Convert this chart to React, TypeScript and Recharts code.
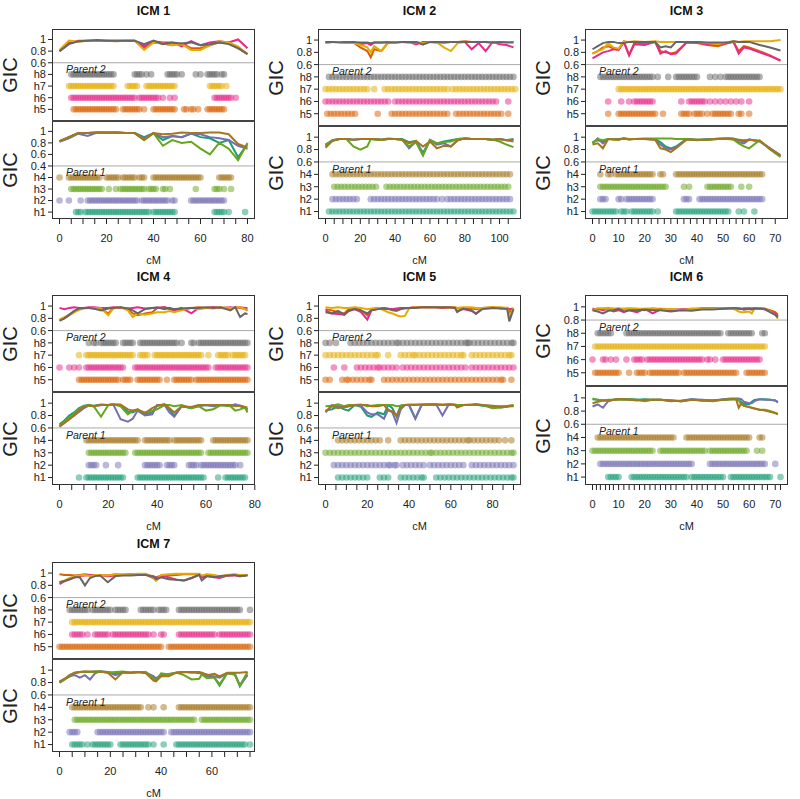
import React from 'react';
import { ComposedChart, Line, Scatter, XAxis, YAxis, ReferenceLine } from 'recharts';

const COL: Record<string, string> = {
  h1: '#1b9e77', h2: '#7570b3', h3: '#66a61e', h4: '#a6761d',
  h5: '#d95f02', h6: '#e7298a', h7: '#e6ab02', h8: '#666666',
};
const FONT = "'Liberation Sans', Arial, sans-serif";

// ---------- ICM 1 ----------
const icm1Xs = [0, 4, 8, 12, 16, 20, 24, 28, 32, 36, 40, 44, 48, 52, 56, 60, 64, 68, 72, 76, 80];
const icm1P2 = [
  [0.8, 0.95, 0.97, 0.98, 0.98, 0.98, 0.97, 0.98, 0.98, 0.85, 0.95, 0.93, 0.9, 0.93, 0.85, 0.85, 0.9, 0.95, 0.95, 0.85, 0.75],
  [0.8, 0.93, 0.98, 0.98, 0.98, 0.98, 0.98, 0.98, 0.98, 0.88, 0.97, 0.95, 0.95, 0.88, 0.97, 0.9, 0.95, 0.97, 0.95, 1.0, 0.85],
  [0.82, 0.98, 0.96, 0.98, 0.98, 0.98, 0.98, 0.98, 0.98, 0.82, 0.95, 0.93, 0.9, 0.92, 0.82, 0.82, 0.9, 0.97, 0.95, 0.88, 0.75],
  [0.8, 0.92, 0.97, 0.98, 0.99, 0.98, 0.98, 0.98, 0.98, 0.92, 0.98, 0.92, 0.95, 0.93, 0.95, 0.9, 0.92, 0.95, 0.92, 0.85, 0.75],
];
const icm1P1 = [
  [0.83, 0.9, 0.97, 0.97, 0.98, 0.98, 0.98, 0.97, 0.97, 0.9, 0.97, 0.85, 0.92, 0.9, 0.96, 0.9, 0.88, 0.8, 0.85, 0.55, 0.78],
  [0.82, 0.88, 0.96, 0.92, 0.98, 0.97, 0.98, 0.97, 0.97, 0.88, 0.97, 0.9, 0.92, 0.9, 0.96, 0.95, 0.9, 0.88, 0.85, 0.75, 0.7],
  [0.83, 0.9, 0.97, 0.97, 0.98, 0.98, 0.98, 0.97, 0.97, 0.85, 0.97, 0.75, 0.85, 0.8, 0.82, 0.7, 0.6, 0.8, 0.7, 0.5, 0.8],
  [0.83, 0.9, 0.97, 0.97, 0.98, 0.98, 0.98, 0.97, 0.97, 0.85, 0.97, 0.95, 0.96, 0.98, 0.97, 0.97, 0.98, 0.98, 0.95, 0.78, 0.72],
];
const icm1D2 = [
  [6, 7, 8, 9, 10, 11, 12, 13, 14, 15, 16, 17, 18, 19, 20, 21, 22, 23, 24, 27, 28, 29, 30, 31, 32, 33, 34, 36, 40, 41, 42, 43, 44, 45, 46, 47, 48, 49, 53, 54, 56, 57, 59, 63, 64, 65, 66, 67, 68, 69, 70],
  [5, 6, 7, 8, 9, 10, 11, 12, 13, 14, 15, 16, 17, 18, 19, 20, 21, 22, 23, 24, 25, 26, 27, 28, 29, 30, 31, 32, 34, 35, 36, 37, 38, 39, 40, 41, 42, 44, 47, 49, 66, 67, 68, 69, 70, 71, 72, 73, 75],
  [4, 5, 6, 7, 8, 9, 10, 11, 12, 13, 14, 15, 16, 17, 18, 19, 20, 21, 22, 23, 29, 30, 31, 32, 33, 37, 38, 39, 40, 41, 42, 43, 44, 45, 46, 47, 48, 49, 64, 65, 66, 67, 68, 69, 71],
  [5, 6, 7, 8, 9, 10, 11, 12, 13, 14, 15, 16, 17, 18, 19, 20, 21, 22, 23, 32, 33, 34, 35, 37, 39, 46, 47, 48, 49, 50, 52, 58, 60, 63, 64, 65, 66, 67, 69, 70],
];
const icm1D1 = [
  [7, 8, 9, 11, 12, 13, 14, 15, 16, 17, 18, 19, 20, 21, 22, 23, 24, 25, 26, 27, 28, 29, 30, 31, 32, 33, 34, 35, 36, 37, 38, 40, 41, 42, 43, 44, 45, 46, 47, 48, 49, 66, 67, 68, 69, 70, 72, 79],
  [0, 4, 9, 12, 13, 14, 15, 16, 17, 18, 19, 20, 21, 22, 23, 24, 25, 26, 27, 28, 29, 30, 31, 32, 33, 35, 36, 37, 38, 39, 40, 41, 42, 43, 44, 45, 46, 48, 49, 56, 57, 58, 59, 60, 61, 62, 63, 64, 65, 66, 67, 68, 69, 70],
  [5, 6, 7, 8, 9, 10, 11, 12, 13, 14, 15, 16, 17, 18, 21, 24, 26, 27, 28, 29, 30, 31, 32, 33, 34, 35, 36, 38, 39, 40, 41, 44, 45, 47, 58, 66, 67, 68, 70, 73],
  [0, 4, 5, 6, 7, 8, 9, 10, 11, 12, 13, 14, 15, 16, 17, 20, 21, 22, 23, 24, 25, 27, 28, 29, 30, 31, 32, 34, 35, 36, 40, 41, 42, 43, 44, 45, 46, 47, 48, 49, 50, 51, 52, 53, 54, 55, 56, 57, 58, 59, 60, 68, 69, 70, 71, 72, 73],
];
const icm1Ticks = [0, 5, 10, 15, 20, 25, 30, 35, 40, 45, 50, 55, 60, 65, 70, 75, 80];

// ---------- ICM 2 ----------
const icm2Xs = [0, 4, 8, 12, 16, 20, 24, 26, 28, 32, 36, 40, 44, 48, 52, 56, 60, 64, 68, 72, 76, 80, 84, 88, 92, 96, 100, 104, 108];
const icm2P2 = [
  [0.96, 0.97, 0.97, 0.96, 0.96, 0.88, 0.82, 0.72, 0.85, 0.82, 0.96, 0.97, 0.97, 0.96, 0.97, 0.93, 0.97, 0.97, 0.96, 0.97, 0.97, 0.98, 0.97, 0.97, 0.97, 0.96, 0.97, 0.97, 0.97],
  [0.96, 0.97, 0.97, 0.96, 0.96, 0.93, 0.95, 0.92, 0.96, 0.96, 0.97, 0.96, 0.97, 0.97, 0.93, 0.97, 0.97, 0.96, 0.97, 0.97, 0.97, 0.97, 0.85, 0.95, 0.82, 0.97, 0.93, 0.92, 0.88],
  [0.96, 0.97, 0.97, 0.96, 0.96, 0.92, 0.88, 0.8, 0.9, 0.82, 0.96, 0.97, 0.97, 0.96, 0.97, 0.95, 0.97, 0.96, 0.88, 0.82, 0.95, 0.97, 0.97, 0.97, 0.97, 0.96, 0.97, 0.97, 0.97],
  [0.97, 0.97, 0.96, 0.97, 0.97, 0.96, 0.96, 0.95, 0.96, 0.96, 0.96, 0.96, 0.97, 0.97, 0.97, 0.93, 0.97, 0.97, 0.96, 0.97, 0.97, 0.97, 0.97, 0.97, 0.97, 0.96, 0.97, 0.96, 0.96],
];
const icm2P1 = [
  [0.88, 0.95, 0.97, 0.97, 0.96, 0.97, 0.97, 0.97, 0.97, 0.96, 0.97, 0.97, 0.97, 0.92, 0.94, 0.75, 0.95, 0.9, 0.93, 0.95, 0.97, 0.98, 0.97, 0.97, 0.97, 0.96, 0.97, 0.95, 0.97],
  [0.85, 0.95, 0.97, 0.97, 0.96, 0.97, 0.97, 0.97, 0.97, 0.96, 0.98, 0.97, 0.96, 0.82, 0.93, 0.72, 0.95, 0.88, 0.9, 0.85, 0.95, 0.98, 0.97, 0.97, 0.97, 0.96, 0.97, 0.95, 0.96],
  [0.87, 0.94, 0.97, 0.97, 0.85, 0.8, 0.85, 0.97, 0.96, 0.96, 0.97, 0.97, 0.96, 0.85, 0.92, 0.7, 0.96, 0.9, 0.92, 0.93, 0.97, 0.98, 0.97, 0.97, 0.97, 0.96, 0.93, 0.88, 0.84],
  [0.83, 0.94, 0.97, 0.97, 0.96, 0.97, 0.97, 0.97, 0.97, 0.96, 0.97, 0.97, 0.96, 0.9, 0.94, 0.85, 0.93, 0.82, 0.86, 0.85, 0.95, 0.98, 0.97, 0.97, 0.97, 0.96, 0.97, 0.95, 0.93],
];
const icm2D2 = [
  [1, 3, 5, 7, 9, 11, 13, 15, 17, 30, 38, 40, 42, 44, 46, 48, 50, 52, 54, 56, 58, 60, 62, 64, 66, 68, 70, 75, 77, 79, 81, 83, 85, 87, 89, 91, 93, 95, 97, 99, 101, 105],
  [0, 2, 4, 6, 8, 10, 12, 14, 16, 18, 20, 22, 24, 26, 28, 30, 32, 34, 36, 40, 42, 44, 46, 48, 50, 52, 54, 56, 58, 60, 62, 64, 66, 68, 70, 72, 74, 76, 78, 80, 82, 84, 86, 88, 90, 92, 94, 96, 98, 105],
  [0, 2, 4, 6, 8, 10, 12, 14, 16, 18, 20, 22, 24, 28, 34, 36, 38, 40, 42, 44, 46, 48, 50, 52, 54, 56, 58, 60, 62, 64, 66, 68, 70, 73, 75, 77, 79, 81, 83, 85, 87, 89, 91, 93, 95, 97, 99, 101, 103, 105, 107, 109],
  [2, 4, 6, 8, 10, 12, 14, 16, 18, 20, 22, 24, 26, 28, 30, 32, 34, 36, 38, 40, 42, 44, 46, 48, 50, 52, 54, 56, 58, 60, 62, 64, 66, 68, 70, 72, 74, 76, 78, 80, 82, 84, 86, 88, 90, 92, 94, 96, 98, 100, 102, 104, 106, 108],
];
const icm2D1 = [
  [2, 4, 6, 8, 10, 12, 14, 16, 18, 20, 22, 24, 26, 28, 30, 32, 34, 36, 38, 40, 42, 44, 46, 48, 50, 52, 54, 56, 58, 60, 62, 64, 66, 68, 70, 72, 74, 76, 78, 80, 82, 84, 86, 88, 90, 92, 94, 96, 98, 100, 102, 104, 106, 108],
  [4, 6, 8, 10, 12, 14, 16, 18, 26, 28, 30, 32, 34, 36, 38, 40, 42, 44, 46, 48, 50, 52, 54, 56, 58, 60, 62, 64, 67, 70, 72, 74, 76, 78, 80, 82, 84, 86, 88, 90, 92, 94, 96, 98, 100, 102, 104, 106],
  [5, 7, 9, 11, 13, 15, 17, 19, 21, 23, 25, 27, 29, 35, 37, 39, 41, 43, 45, 47, 49, 51, 53, 55, 57, 59, 61, 63, 65, 67, 69, 71, 73, 75, 77, 79, 81, 83, 85, 87, 89, 91, 93, 95, 97, 99, 101, 103, 105],
  [4, 6, 8, 10, 12, 14, 16, 18, 20, 22, 24, 26, 28, 30, 32, 34, 36, 38, 40, 42, 44, 46, 48, 50, 52, 54, 56, 58, 60, 62, 64, 66, 68, 70, 72, 74, 76, 78, 80, 82, 84, 86, 88, 90, 92, 94, 96, 98, 100, 102, 104, 106],
];
const icm2Ticks = [0, 5, 10, 15, 20, 25, 30, 35, 40, 45, 50, 55, 60, 65, 70, 75, 80, 85, 90, 95, 100, 105];

// ---------- ICM 3 ----------
const icm3Xs = [0, 2, 4, 6, 8, 10, 12, 14, 16, 20, 24, 26, 28, 30, 32, 36, 40, 44, 48, 52, 54, 56, 58, 60, 64, 68, 72];
const icm3P2 = [
  [0.78, 0.82, 0.88, 0.9, 0.86, 0.85, 0.97, 0.76, 0.95, 0.95, 0.97, 0.82, 0.8, 0.78, 0.8, 0.96, 0.95, 0.92, 0.9, 0.95, 0.97, 0.82, 0.9, 0.88, 0.82, 0.75, 0.66],
  [0.7, 0.75, 0.8, 0.82, 0.85, 0.84, 0.97, 0.75, 0.93, 0.92, 0.97, 0.78, 0.82, 0.77, 0.78, 0.96, 0.96, 0.93, 0.92, 0.96, 0.97, 0.78, 0.88, 0.86, 0.8, 0.74, 0.67],
  [0.78, 0.82, 0.85, 0.95, 0.88, 0.86, 0.98, 0.97, 0.98, 0.97, 0.98, 0.97, 0.97, 0.97, 0.97, 0.97, 0.97, 0.95, 0.93, 0.97, 0.98, 0.97, 0.98, 0.98, 0.98, 0.98, 1.0],
  [0.85, 0.9, 0.95, 0.97, 0.97, 0.95, 0.95, 0.97, 0.97, 0.97, 0.97, 0.88, 0.9, 0.88, 0.97, 0.97, 0.97, 0.96, 0.96, 0.96, 0.98, 0.97, 0.97, 0.97, 0.92, 0.88, 0.83],
];
const icm3P1 = [
  [0.92, 0.95, 0.93, 0.97, 0.97, 0.97, 0.97, 0.97, 0.97, 0.97, 0.97, 0.92, 0.85, 0.82, 0.85, 0.97, 0.95, 0.97, 0.97, 0.98, 0.98, 0.95, 0.93, 0.96, 0.93, 0.82, 0.7],
  [0.9, 0.98, 0.9, 0.97, 0.97, 0.97, 0.98, 0.97, 0.97, 0.97, 0.96, 0.88, 0.82, 0.8, 0.83, 0.97, 0.96, 0.96, 0.98, 0.98, 0.97, 0.92, 0.9, 0.96, 0.94, 0.82, 0.71],
  [0.9, 0.97, 0.95, 0.97, 0.97, 0.96, 0.98, 0.97, 0.97, 0.98, 0.98, 0.98, 0.98, 0.98, 0.97, 0.97, 0.96, 0.96, 0.97, 0.97, 0.96, 0.9, 0.85, 0.82, 0.95, 0.8, 0.68],
  [0.88, 0.9, 0.82, 0.97, 0.96, 0.96, 0.98, 0.96, 0.97, 0.97, 0.96, 0.82, 0.8, 0.76, 0.82, 0.96, 0.96, 0.96, 0.97, 0.98, 0.97, 0.96, 0.95, 0.96, 0.94, 0.81, 0.7],
];
const icm3D2 = [
  [6, 10, 11, 12, 13, 14, 15, 16, 17, 18, 19, 20, 21, 22, 23, 24, 27, 34, 35, 36, 37, 39, 40, 41, 42, 44, 46, 47, 48, 49, 50, 51, 52, 53, 56, 57, 60],
  [6, 11, 14, 16, 17, 18, 19, 20, 21, 22, 23, 34, 37, 38, 39, 40, 41, 42, 43, 45, 47, 49, 51, 53, 55, 57, 60],
  [10, 11, 12, 13, 14, 15, 16, 17, 18, 19, 20, 21, 22, 23, 24, 25, 26, 27, 28, 29, 30, 31, 32, 33, 34, 35, 36, 37, 38, 39, 40, 41, 42, 43, 44, 45, 46, 47, 48, 49, 50, 51, 52, 53, 54, 55, 56, 57, 58, 59, 60, 61, 62, 63, 64, 65, 66, 67, 68, 69, 70, 71, 72],
  [3, 4, 5, 6, 7, 8, 9, 10, 11, 12, 13, 14, 15, 16, 17, 18, 19, 20, 21, 22, 23, 25, 29, 32, 33, 34, 35, 36, 37, 38, 39, 40, 45, 47, 49, 51, 52, 53, 54, 55, 56, 57, 58, 59, 60, 61, 62, 63, 64],
];
const icm3D1 = [
  [0, 1, 2, 3, 4, 5, 6, 7, 8, 9, 11, 12, 13, 15, 16, 17, 18, 19, 20, 21, 22, 23, 25, 32, 33, 34, 35, 36, 37, 38, 39, 40, 41, 42, 43, 44, 45, 46, 47, 48, 49, 50, 51, 52, 56, 58, 62],
  [3, 4, 5, 10, 11, 13, 14, 15, 16, 17, 18, 19, 20, 21, 22, 23, 35, 36, 37, 41, 42, 43, 44, 45, 46, 47, 48, 49, 50, 51, 52, 53, 54, 55, 56, 57, 58, 59, 60, 61, 62, 63, 64, 65],
  [3, 4, 5, 6, 7, 8, 9, 10, 11, 12, 13, 14, 15, 16, 17, 18, 19, 20, 21, 22, 23, 24, 25, 26, 27, 28, 35, 37, 44, 45, 46, 47, 48, 49, 50, 51, 52, 53, 57, 60],
  [3, 6, 7, 9, 10, 11, 12, 13, 14, 15, 16, 17, 18, 19, 20, 21, 22, 23, 26, 27, 32, 33, 34, 35, 36, 37, 38, 39, 40, 41, 42, 43, 44, 45, 46, 47, 48, 49, 50, 51, 52, 53, 54, 55, 56, 57, 58, 59, 60, 61, 62, 63, 64, 65],
];
const icm3Ticks = [0, 2.5, 5, 7.5, 10, 12.5, 15, 17.5, 20, 22.5, 25, 27.5, 30, 32.5, 35, 37.5, 40, 42.5, 45, 47.5, 50, 52.5, 55, 57.5, 60, 62.5, 65, 70];

// ---------- ICM 4 ----------
const icm4Xs = [0, 2, 4, 6, 8, 10, 12, 14, 17, 20, 22, 25, 28, 30, 32, 35, 38, 40, 43, 45, 47, 50, 54, 57, 60, 63, 66, 70, 72, 74, 76, 77];
const icm4P2 = [
  [0.77, 0.8, 0.85, 0.9, 0.95, 0.97, 0.97, 0.96, 0.95, 0.88, 0.97, 0.98, 0.95, 0.88, 0.85, 0.88, 0.9, 0.97, 0.98, 0.95, 0.93, 0.95, 0.97, 0.98, 0.97, 0.98, 0.97, 0.96, 0.98, 0.97, 0.95, 0.93],
  [0.97, 0.95, 0.97, 0.98, 0.97, 0.97, 0.98, 0.98, 0.97, 0.97, 0.98, 0.97, 0.96, 0.97, 0.98, 0.96, 0.97, 0.97, 0.98, 0.96, 0.93, 0.97, 0.88, 0.97, 0.97, 0.98, 0.97, 0.98, 0.97, 0.98, 0.97, 0.97],
  [0.78, 0.82, 0.86, 0.9, 0.94, 0.96, 0.97, 0.97, 0.96, 0.85, 0.96, 0.98, 0.93, 0.82, 0.88, 0.86, 0.88, 0.9, 0.9, 0.92, 0.9, 0.93, 0.97, 0.95, 0.97, 0.96, 0.98, 0.97, 0.97, 0.98, 0.95, 0.92],
  [0.76, 0.8, 0.86, 0.92, 0.96, 0.97, 0.97, 0.96, 0.93, 0.96, 0.97, 0.98, 0.96, 0.93, 0.88, 0.95, 0.97, 0.98, 0.95, 0.97, 0.95, 0.96, 0.97, 0.97, 0.98, 0.97, 0.98, 0.93, 0.98, 0.82, 0.88, 0.87],
];
const icm4P1 = [
  [0.66, 0.72, 0.8, 0.85, 0.92, 0.96, 0.97, 0.96, 0.98, 0.97, 0.98, 0.97, 0.86, 0.85, 0.9, 0.82, 0.85, 0.96, 0.98, 0.9, 0.8, 0.95, 0.92, 0.96, 0.97, 0.96, 0.97, 0.96, 0.97, 0.95, 0.92, 0.88],
  [0.62, 0.68, 0.74, 0.8, 0.86, 0.92, 0.96, 0.95, 0.97, 0.97, 0.98, 0.74, 0.7, 0.75, 0.88, 0.8, 0.82, 0.97, 0.97, 0.85, 0.78, 0.95, 0.93, 0.95, 0.97, 0.95, 0.97, 0.96, 0.98, 0.96, 0.93, 0.9],
  [0.64, 0.7, 0.77, 0.83, 0.9, 0.95, 0.96, 0.95, 0.78, 0.97, 0.98, 0.95, 0.82, 0.88, 0.88, 0.85, 0.88, 0.9, 0.97, 0.97, 0.95, 0.97, 0.92, 0.95, 0.88, 0.9, 0.97, 0.95, 0.88, 0.9, 0.93, 0.85],
  [0.63, 0.68, 0.74, 0.8, 0.88, 0.94, 0.97, 0.95, 0.97, 0.97, 0.98, 0.98, 0.9, 0.88, 0.9, 0.84, 0.92, 0.96, 0.98, 0.92, 0.85, 0.95, 0.94, 0.97, 0.97, 0.97, 0.97, 0.97, 0.95, 0.96, 0.94, 0.93],
];
const icm4D2 = [
  [8, 9, 10, 11, 12, 13, 14, 15, 16, 17, 18, 19, 20, 21, 22, 23, 24, 26, 27, 28, 29, 32, 33, 34, 35, 36, 37, 38, 39, 40, 41, 44, 47, 48, 49, 50, 51, 52, 53, 54, 56, 57, 58, 59, 60, 61, 62, 63, 64, 65, 66, 67, 68, 69, 70, 71, 72, 73, 74, 75, 76, 77],
  [0, 4, 6, 8, 11, 12, 13, 14, 15, 16, 17, 18, 19, 20, 21, 22, 23, 24, 25, 26, 31, 32, 33, 34, 35, 36, 37, 38, 39, 40, 41, 42, 43, 44, 45, 46, 47, 48, 49, 50, 51, 52, 53, 54, 55, 56, 57, 58, 59, 60, 61, 64, 65, 66, 67, 68, 69, 70, 71, 72, 73, 74, 75, 76, 77],
  [8, 11, 12, 13, 14, 15, 16, 17, 18, 19, 20, 21, 22, 23, 24, 25, 26, 27, 28, 29, 30, 33, 34, 35, 36, 39, 40, 41, 42, 43, 44, 45, 46, 47, 48, 49, 50, 51, 52, 53, 54, 55, 56, 57, 58, 61, 65, 66, 67, 68, 69, 71, 72, 73, 74, 75, 76],
  [12, 14, 15, 17, 18, 19, 20, 21, 22, 23, 26, 27, 28, 29, 30, 33, 34, 35, 36, 37, 38, 39, 40, 41, 42, 43, 44, 45, 46, 47, 48, 50, 54, 55, 57, 58, 59, 60, 61, 62, 63, 64, 65, 66, 67, 68, 69, 70, 71, 72, 73, 74, 75, 76, 77],
];
const icm4D1 = [
  [8, 11, 12, 13, 14, 15, 16, 17, 18, 19, 20, 21, 22, 23, 24, 25, 26, 32, 33, 34, 35, 36, 37, 38, 39, 40, 41, 42, 43, 44, 45, 46, 47, 48, 49, 50, 51, 52, 53, 54, 55, 56, 57, 58, 59, 65, 68, 69, 70, 71, 72, 73, 74, 75, 76],
  [12, 13, 14, 15, 19, 24, 35, 36, 37, 38, 39, 40, 41, 44, 45, 46, 47, 53, 54, 55, 56, 58, 59, 60, 61, 62, 63, 64, 65, 66, 67, 68, 69, 70, 71, 72, 74],
  [12, 13, 14, 15, 16, 17, 18, 19, 20, 21, 22, 23, 24, 25, 26, 27, 31, 32, 33, 34, 35, 36, 37, 38, 39, 40, 41, 42, 43, 44, 45, 46, 47, 48, 49, 50, 51, 52, 53, 54, 55, 56, 57, 58, 61, 62, 63, 64, 65, 66, 67, 68, 69, 70, 71, 72, 73, 74, 75, 76, 77],
  [11, 12, 13, 14, 15, 16, 17, 18, 19, 20, 21, 22, 23, 24, 25, 26, 27, 28, 29, 30, 31, 32, 35, 36, 37, 38, 39, 40, 41, 42, 43, 44, 45, 47, 48, 49, 50, 51, 52, 53, 54, 55, 56, 57, 58, 63, 64, 65, 66, 67, 68, 69, 70, 71, 72, 73, 74, 75, 76, 77],
];
const icm4Ticks = [0, 5, 10, 15, 20, 25, 30, 35, 40, 45, 50, 55, 60, 65, 70, 75, 80];

// ---------- ICM 5 ----------
const icm5Xs = [0, 3, 6, 9, 11, 14, 17, 20, 22, 25, 28, 30, 32, 34, 36, 38, 40, 43, 46, 50, 53, 56, 59, 62, 63, 66, 70, 72, 75, 80, 84, 87, 88, 90];
const icm5P2 = [
  [0.95, 0.93, 0.9, 0.88, 0.95, 0.97, 0.93, 0.85, 0.95, 0.96, 0.97, 0.96, 0.93, 0.92, 0.95, 0.96, 0.97, 0.98, 0.98, 0.98, 0.98, 0.97, 0.98, 0.98, 0.97, 0.97, 0.96, 0.95, 0.97, 0.98, 0.96, 0.97, 0.9, 0.95],
  [0.93, 0.88, 0.87, 0.86, 0.92, 0.95, 0.9, 0.78, 0.93, 0.95, 0.96, 0.95, 0.95, 0.96, 0.97, 0.97, 0.97, 0.98, 0.98, 0.98, 0.98, 0.97, 0.98, 0.97, 0.92, 0.95, 0.92, 0.88, 0.96, 0.97, 0.97, 0.97, 0.95, 0.96],
  [0.98, 0.97, 0.98, 0.97, 0.97, 0.98, 0.97, 0.95, 0.96, 0.97, 0.93, 0.9, 0.88, 0.85, 0.83, 0.84, 0.96, 0.98, 0.98, 0.98, 0.98, 0.98, 0.98, 0.98, 0.97, 0.98, 0.98, 0.97, 0.97, 0.98, 0.98, 0.97, 0.82, 0.97],
  [0.9, 0.88, 0.92, 0.86, 0.92, 0.95, 0.93, 0.88, 0.93, 0.95, 0.96, 0.95, 0.94, 0.93, 0.95, 0.97, 0.97, 0.97, 0.98, 0.98, 0.98, 0.98, 0.98, 0.97, 0.9, 0.96, 0.93, 0.87, 0.95, 0.97, 0.96, 0.95, 0.75, 0.95],
];
const icm5P1 = [
  [0.88, 0.9, 0.95, 0.9, 0.88, 0.97, 0.94, 0.8, 0.78, 0.85, 0.82, 0.97, 0.92, 0.78, 0.96, 0.97, 0.97, 0.75, 0.97, 0.98, 0.98, 0.97, 0.98, 0.97, 0.95, 0.97, 0.97, 0.98, 0.96, 0.95, 0.93, 0.94, 0.95, 0.95],
  [0.85, 0.97, 0.95, 0.93, 0.95, 0.97, 0.96, 0.85, 0.82, 0.82, 0.75, 0.9, 0.85, 0.68, 0.9, 0.97, 0.97, 0.75, 0.97, 0.98, 0.98, 0.8, 0.98, 0.97, 0.96, 0.97, 0.97, 0.98, 0.97, 0.95, 0.95, 0.95, 0.95, 0.96],
  [0.95, 0.96, 0.98, 0.95, 0.97, 0.97, 0.98, 0.95, 0.96, 0.97, 0.97, 0.97, 0.97, 0.95, 0.96, 0.97, 0.98, 0.98, 0.98, 0.98, 0.98, 0.98, 0.98, 0.98, 0.97, 0.97, 0.97, 0.98, 0.97, 0.92, 0.93, 0.95, 0.96, 0.97],
  [0.86, 0.95, 0.92, 0.94, 0.95, 0.97, 0.97, 0.97, 0.95, 0.95, 0.97, 0.88, 0.87, 0.8, 0.92, 0.97, 0.97, 0.97, 0.98, 0.98, 0.98, 0.97, 0.98, 0.97, 0.93, 0.97, 0.98, 0.98, 0.97, 0.96, 0.94, 0.95, 0.96, 0.96],
];
const icm5D2 = [
  [0, 2, 8, 10, 11, 13, 15, 17, 19, 21, 22, 28, 30, 32, 34, 36, 38, 40, 42, 44, 46, 48, 50, 52, 54, 56, 58, 60, 62, 64, 66, 68, 70, 72, 74, 76, 78, 80, 82, 84, 85, 89],
  [4, 9, 15, 17, 19, 21, 23, 25, 26, 28, 30, 32, 34, 37, 39, 41, 43, 45, 47, 49, 51, 53, 55, 57, 59, 61, 63, 65, 67, 70, 72, 74, 76, 78, 80, 82, 84, 86, 88, 90],
  [0, 2, 4, 6, 8, 10, 12, 14, 16, 18, 20, 22, 24, 25, 30, 36, 38, 40, 42, 43, 45, 47, 49, 51, 53, 55, 57, 59, 61, 63, 65, 66, 70, 72, 74, 76, 78, 80, 82, 84, 86, 88, 89],
  [0, 2, 5, 12, 14, 16, 18, 20, 22, 24, 26, 28, 30, 32, 34, 35, 37, 39, 41, 43, 45, 47, 49, 51, 53, 55, 57, 59, 61, 63, 65, 67, 68, 69, 71, 73, 75, 77, 79, 81, 83, 85, 87, 89, 90],
];
const icm5D1 = [
  [6, 8, 10, 12, 14, 16, 18, 20, 26, 28, 30, 36, 38, 40, 42, 44, 46, 47, 53, 55, 57, 59, 61, 63, 65, 67, 69, 71, 73, 75, 77, 79, 81, 83, 85, 87, 89, 90],
  [4, 6, 8, 10, 12, 14, 16, 18, 20, 22, 24, 26, 28, 30, 31, 33, 34, 37, 39, 41, 43, 45, 47, 50, 52, 54, 56, 58, 60, 62, 64, 66, 70, 72, 74, 76, 78, 80, 82, 84, 86, 88, 90],
  [0, 2, 4, 6, 8, 10, 12, 14, 16, 18, 20, 22, 24, 26, 28, 30, 32, 34, 36, 38, 40, 42, 44, 46, 48, 50, 51, 53, 55, 57, 59, 61, 63, 65, 67, 69, 71, 73, 75, 77, 79, 81, 83, 85, 87, 89, 90],
  [6, 8, 10, 12, 14, 16, 18, 20, 22, 24, 26, 30, 36, 38, 40, 42, 44, 46, 48, 50, 52, 54, 56, 58, 60, 62, 64, 66, 68, 69, 71, 73, 75, 77, 79, 81, 83, 86, 89],
];
const icm5Ticks = [0, 5, 10, 15, 20, 25, 30, 35, 40, 45, 50, 55, 60, 65, 70, 75, 80, 85, 90];

// ---------- ICM 6 ----------
const icm6Xs = [0, 2, 4, 6, 8, 10, 12, 14, 17, 20, 23, 26, 30, 34, 38, 42, 46, 50, 53, 55, 56, 57, 58, 60, 61, 62, 64, 66, 68, 70, 71];
const icm6P2 = [
  [0.97, 0.96, 0.97, 0.98, 0.97, 0.96, 0.97, 0.97, 0.97, 0.95, 0.97, 0.97, 0.96, 0.96, 0.96, 0.98, 0.98, 0.97, 0.98, 0.97, 0.97, 0.97, 0.96, 0.97, 0.96, 0.98, 0.98, 0.97, 0.95, 0.92, 0.88],
  [0.96, 0.97, 0.95, 0.97, 0.93, 0.95, 0.92, 0.95, 0.92, 0.97, 0.9, 0.96, 0.95, 0.96, 0.97, 0.97, 0.97, 0.98, 0.98, 0.98, 0.97, 0.97, 0.98, 0.98, 0.98, 0.98, 0.98, 0.96, 0.93, 0.9, 0.86],
  [0.95, 0.98, 0.98, 0.97, 0.97, 0.98, 0.97, 0.98, 0.97, 0.97, 0.98, 0.96, 0.97, 0.95, 0.97, 0.97, 0.97, 0.98, 0.98, 0.95, 0.93, 0.92, 0.92, 0.93, 0.9, 0.97, 0.98, 0.97, 0.93, 0.88, 0.82],
  [0.95, 0.93, 0.9, 0.94, 0.95, 0.97, 0.93, 0.95, 0.95, 0.96, 0.95, 0.95, 0.93, 0.95, 0.94, 0.96, 0.96, 0.97, 0.98, 0.98, 0.98, 0.97, 0.96, 0.97, 0.96, 0.97, 0.97, 0.97, 0.92, 0.88, 0.84],
];
const icm6P1 = [
  [0.98, 0.97, 0.96, 0.96, 0.97, 0.98, 0.98, 0.98, 0.97, 0.98, 0.97, 0.97, 0.96, 0.95, 0.98, 0.96, 0.96, 0.97, 0.98, 0.98, 0.97, 0.93, 0.91, 0.9, 0.94, 0.97, 0.98, 0.98, 0.97, 0.96, 0.94],
  [0.87, 0.9, 0.85, 0.95, 0.97, 0.98, 0.98, 0.98, 0.97, 0.96, 0.97, 0.97, 0.95, 0.96, 0.98, 0.97, 0.96, 0.98, 0.99, 0.99, 0.99, 0.98, 0.94, 0.92, 0.92, 0.95, 0.98, 0.97, 0.97, 0.96, 0.93],
  [0.99, 0.97, 0.96, 0.97, 0.97, 0.98, 0.97, 0.98, 0.97, 0.95, 0.97, 0.97, 0.96, 0.95, 0.97, 0.96, 0.95, 0.97, 0.98, 0.98, 0.96, 0.9, 0.88, 0.86, 0.85, 0.84, 0.82, 0.82, 0.8, 0.77, 0.76],
  [0.92, 0.94, 0.96, 0.96, 0.97, 0.98, 0.98, 0.97, 0.96, 0.97, 0.97, 0.97, 0.96, 0.95, 0.97, 0.96, 0.96, 0.97, 0.98, 0.98, 0.85, 0.92, 0.88, 0.86, 0.85, 0.84, 0.82, 0.81, 0.79, 0.77, 0.75],
];
const icm6D2 = [
  [1, 2, 3, 4, 5, 6, 7, 8, 9, 10, 14, 17, 18, 19, 20, 22, 23, 24, 25, 26, 27, 28, 29, 30, 31, 32, 33, 35, 36, 37, 38, 39, 40, 41, 42, 43, 44, 45, 46, 47, 48, 49, 50, 51, 52, 53, 54, 55, 59, 60, 61, 62, 63, 64, 65, 66],
  [0, 4, 5, 7, 9, 13, 16, 17, 18, 19, 21, 22, 23, 24, 25, 26, 27, 28, 29, 30, 31, 32, 33, 34, 35, 36, 37, 38, 39, 40, 41, 42, 44, 45, 47, 50, 51, 52, 53, 54, 55, 56, 57, 58, 59, 60, 61, 62, 63, 64],
  [1, 2, 3, 4, 5, 6, 7, 8, 9, 10, 11, 12, 13, 14, 15, 16, 17, 18, 19, 20, 21, 22, 23, 24, 25, 26, 27, 28, 29, 30, 31, 32, 33, 34, 35, 36, 37, 38, 39, 40, 41, 42, 43, 44, 45, 46, 47, 48, 49, 50, 51, 52, 53, 54, 55, 56, 57, 58, 59, 60, 61, 62, 63, 64, 65, 66],
  [2, 3, 4, 5, 6, 7, 13, 14, 15, 16, 17, 18, 19, 20, 21, 22, 23, 24, 25, 26, 27, 28, 29, 30, 31, 32, 33, 34, 35, 36, 37, 38, 39, 40, 41, 42, 43, 44, 45, 46, 47, 48, 49, 52, 53, 54, 55, 56, 57, 58, 59, 60, 61, 65, 66],
];
const icm6D1 = [
  [6, 7, 8, 9, 10, 15, 16, 17, 18, 19, 20, 21, 22, 23, 24, 25, 26, 27, 28, 29, 30, 31, 32, 33, 34, 35, 36, 38, 39, 40, 41, 42, 43, 44, 45, 46, 47, 48, 49, 50, 53, 54, 55, 56, 57, 58, 59, 60, 61, 62, 63, 64, 65, 66, 67, 68, 72],
  [3, 4, 5, 6, 7, 8, 9, 10, 11, 12, 13, 14, 15, 16, 17, 18, 19, 20, 21, 22, 23, 24, 25, 26, 27, 28, 29, 30, 31, 32, 33, 34, 35, 36, 37, 38, 45, 46, 47, 48, 49, 50, 51, 52, 53, 54, 55, 56, 57, 58, 59, 60, 61, 62, 63, 64, 65, 66, 70],
  [0, 1, 2, 3, 4, 5, 6, 7, 8, 9, 10, 11, 12, 13, 14, 15, 16, 17, 18, 19, 20, 21, 22, 23, 26, 27, 28, 29, 30, 31, 32, 33, 34, 35, 36, 37, 38, 39, 40, 41, 42, 43, 45, 46, 47, 48, 49, 50, 51, 52, 53, 54, 55, 56, 57, 58, 59, 63, 65],
  [2, 3, 4, 5, 6, 7, 8, 9, 10, 11, 12, 13, 14, 15, 16, 17, 18, 19, 20, 21, 22, 23, 24, 25, 26, 27, 28, 29, 30, 31, 36, 37, 38, 39, 40, 41, 42, 43, 44, 45, 46, 47, 48, 49, 50, 51, 52, 53, 54, 55, 56, 57, 58, 59, 60, 64, 65],
];
const icm6Ticks = [0, 1.5, 3, 5, 6.5, 8, 10, 12, 14, 16, 18, 20, 22, 24, 26, 28, 30, 32, 35, 38, 40, 42, 44, 47, 50, 52, 54, 56, 58, 60, 62, 65, 67, 70, 72];

// ---------- ICM 7 ----------
const icm7Xs = [0, 2, 4, 6, 8, 10, 12, 14, 16, 19, 22, 25, 28, 31, 34, 37, 38, 40, 43, 46, 49, 52, 55, 56, 58, 61, 63, 66, 69, 71, 74];
const icm7P2 = [
  [0.98, 0.97, 0.97, 0.96, 0.97, 0.98, 0.97, 0.97, 0.97, 0.96, 0.98, 0.97, 0.98, 0.98, 0.97, 0.92, 0.88, 0.94, 0.96, 0.97, 0.98, 0.98, 0.98, 0.95, 0.97, 0.95, 0.93, 0.96, 0.97, 0.97, 0.97],
  [0.82, 0.87, 0.9, 0.93, 0.95, 0.96, 0.97, 0.96, 0.97, 0.95, 0.96, 0.97, 0.98, 0.98, 0.97, 0.95, 0.93, 0.96, 0.93, 0.89, 0.88, 0.92, 0.97, 0.93, 0.95, 0.93, 0.92, 0.96, 0.96, 0.95, 0.97],
  [0.85, 0.88, 0.92, 0.95, 0.96, 0.97, 0.95, 0.97, 0.97, 0.96, 0.98, 0.98, 0.98, 0.99, 0.99, 0.93, 0.88, 0.97, 0.98, 0.99, 0.99, 0.99, 0.99, 0.96, 0.98, 0.97, 0.95, 0.97, 0.98, 0.97, 0.97],
  [0.85, 0.87, 0.9, 0.93, 0.93, 0.8, 0.92, 0.95, 0.96, 0.85, 0.95, 0.96, 0.96, 0.97, 0.97, 0.94, 0.9, 0.93, 0.9, 0.89, 0.88, 0.92, 0.97, 0.88, 0.95, 0.93, 0.95, 0.96, 0.97, 0.95, 0.96],
];
const icm7P1 = [
  [0.8, 0.85, 0.9, 0.95, 0.97, 0.97, 0.97, 0.98, 0.98, 0.97, 0.95, 0.97, 0.96, 0.97, 0.96, 0.9, 0.85, 0.92, 0.93, 0.96, 0.97, 0.97, 0.97, 0.95, 0.93, 0.88, 0.75, 0.95, 0.95, 0.74, 0.93],
  [0.82, 0.86, 0.9, 0.92, 0.88, 0.92, 0.85, 0.95, 0.98, 0.97, 0.92, 0.96, 0.96, 0.97, 0.96, 0.9, 0.87, 0.93, 0.94, 0.96, 0.97, 0.96, 0.97, 0.93, 0.9, 0.9, 0.88, 0.95, 0.93, 0.76, 0.92],
  [0.8, 0.85, 0.92, 0.96, 0.97, 0.98, 0.97, 0.97, 0.98, 0.96, 0.97, 0.98, 0.96, 0.97, 0.97, 0.86, 0.83, 0.95, 0.93, 0.96, 0.92, 0.85, 0.86, 0.93, 0.87, 0.88, 0.77, 0.95, 0.93, 0.75, 0.97],
  [0.81, 0.86, 0.92, 0.96, 0.97, 0.98, 0.98, 0.98, 0.98, 0.96, 0.85, 0.97, 0.96, 0.97, 0.95, 0.83, 0.82, 0.9, 0.9, 0.96, 0.97, 0.97, 0.95, 0.96, 0.92, 0.94, 0.9, 0.96, 0.96, 0.96, 0.97],
];
const icm7D2 = [
  [0, 1, 2, 3, 4, 5, 6, 7, 8, 9, 10, 11, 12, 13, 14, 15, 16, 17, 18, 19, 20, 21, 22, 23, 24, 25, 26, 27, 28, 29, 30, 31, 32, 33, 34, 35, 36, 37, 38, 39, 40, 43, 44, 45, 46, 47, 48, 49, 50, 51, 52, 53, 54, 55, 56, 57, 58, 59, 60, 61, 62, 63, 64, 65, 66, 67, 68, 69, 70, 71, 72, 73, 74, 75],
  [5, 6, 7, 8, 9, 11, 14, 15, 16, 17, 18, 19, 21, 22, 23, 24, 25, 26, 27, 28, 29, 30, 31, 32, 33, 34, 35, 37, 40, 41, 47, 48, 49, 50, 51, 52, 53, 54, 55, 56, 57, 58, 59, 60, 61, 63, 64, 65, 66, 67, 68, 69, 70, 71, 72, 73, 74, 75],
  [5, 6, 7, 8, 9, 10, 11, 12, 13, 14, 15, 16, 17, 18, 19, 20, 21, 22, 23, 24, 25, 26, 27, 28, 29, 30, 31, 32, 33, 34, 35, 36, 37, 38, 39, 40, 41, 42, 43, 44, 45, 46, 47, 48, 49, 50, 51, 52, 53, 54, 55, 56, 57, 58, 59, 60, 61, 62, 63, 64, 65, 66, 67, 68, 69, 70, 71, 72, 73, 74, 75],
  [4, 5, 6, 7, 8, 9, 10, 11, 13, 14, 15, 16, 17, 18, 19, 20, 22, 23, 24, 25, 26, 32, 33, 34, 35, 36, 37, 39, 40, 41, 42, 47, 48, 49, 50, 51, 52, 53, 54, 55, 56, 57, 58, 59, 60, 61, 62, 63, 64, 65, 66, 67, 68, 69, 70, 71, 75],
];
const icm7D1 = [
  [5, 6, 7, 8, 9, 11, 13, 14, 15, 16, 17, 18, 19, 20, 24, 25, 26, 27, 28, 29, 30, 31, 32, 33, 34, 35, 37, 41, 46, 47, 48, 49, 50, 51, 52, 53, 54, 55, 56, 57, 58, 59, 60, 61, 62, 63, 64, 65, 66, 67, 68, 69, 70, 71, 72, 73, 75],
  [4, 5, 6, 7, 15, 16, 17, 18, 19, 20, 21, 22, 23, 24, 25, 26, 27, 28, 29, 30, 31, 32, 33, 34, 35, 36, 37, 38, 39, 40, 41, 44, 45, 46, 47, 48, 49, 50, 51, 52, 53, 54, 55, 56, 57, 58, 59, 60, 61, 62, 63, 64, 65, 66, 67, 68, 69, 70, 71, 72, 73, 74, 75],
  [6, 7, 8, 9, 10, 11, 12, 13, 14, 15, 16, 17, 18, 19, 20, 21, 22, 23, 24, 25, 26, 27, 28, 29, 30, 31, 32, 33, 34, 35, 36, 37, 38, 39, 40, 41, 42, 43, 44, 45, 46, 47, 48, 49, 50, 51, 52, 53, 56, 57, 58, 59, 60, 61, 62, 63, 64, 65, 66, 67, 68, 69, 70, 71, 72, 73, 74, 75],
  [5, 6, 7, 8, 9, 10, 11, 12, 13, 14, 15, 16, 17, 18, 19, 20, 21, 22, 23, 24, 25, 26, 27, 28, 29, 30, 31, 32, 35, 37, 41, 47, 48, 49, 50, 51, 52, 53, 54, 55, 56, 57, 58, 59, 60, 61, 62, 63, 64, 65, 66, 67, 68, 69, 70, 71, 72, 73, 74, 75],
];
const icm7Ticks = [0, 5, 10, 15, 20, 25, 30, 35, 40, 45, 50, 55, 60, 65, 70, 75];

type PanelDef = {
  title: string; left: number; top: number; max: number; labelStep: number; ticks: number[];
  xs: number[]; p2: number[][]; p1: number[][]; d2: number[][]; d1: number[][];
  floor2: number; floor1: number;
};

const PANELS: PanelDef[] = [
  { title: 'ICM 1', left: 52, top: 29, max: 80, labelStep: 20, ticks: icm1Ticks, xs: icm1Xs, p2: icm1P2, p1: icm1P1, d2: icm1D2, d1: icm1D1, floor2: 0.6, floor1: 0.4 },
  { title: 'ICM 2', left: 318, top: 29, max: 108, labelStep: 20, ticks: icm2Ticks, xs: icm2Xs, p2: icm2P2, p1: icm2P1, d2: icm2D2, d1: icm2D1, floor2: 0.6, floor1: 0.6 },
  { title: 'ICM 3', left: 585, top: 29, max: 72, labelStep: 10, ticks: icm3Ticks, xs: icm3Xs, p2: icm3P2, p1: icm3P1, d2: icm3D2, d1: icm3D1, floor2: 0.6, floor1: 0.6 },
  { title: 'ICM 4', left: 52, top: 295, max: 77, labelStep: 20, ticks: icm4Ticks, xs: icm4Xs, p2: icm4P2, p1: icm4P1, d2: icm4D2, d1: icm4D1, floor2: 0.6, floor1: 0.6 },
  { title: 'ICM 5', left: 318, top: 295, max: 90, labelStep: 20, ticks: icm5Ticks, xs: icm5Xs, p2: icm5P2, p1: icm5P1, d2: icm5D2, d1: icm5D1, floor2: 0.6, floor1: 0.6 },
  { title: 'ICM 6', left: 585, top: 295, max: 72, labelStep: 10, ticks: icm6Ticks, xs: icm6Xs, p2: icm6P2, p1: icm6P1, d2: icm6D2, d1: icm6D1, floor2: 0.8, floor1: 0.6 },
  { title: 'ICM 7', left: 52, top: 562, max: 74, labelStep: 20, ticks: icm7Ticks, xs: icm7Xs, p2: icm7P2, p1: icm7P1, d2: icm7D2, d1: icm7D1, floor2: 0.6, floor1: 0.6 },
];

const BOX_W = 203;
const BOX_H = 190;
const AXIS_W = 40;
const RIGHT_PAD = 14;

function toUnit(g: number, floor: number) {
  return 5 + (g - floor) / 0.2;
}

function DotShape(props: any) {
  const { cx, cy, fill } = props;
  if (cx == null || cy == null) return null;
  return <circle cx={cx} cy={cy} r={3.3} fill={fill} fillOpacity={0.5} />;
}

function SubChart({ p, parent, height, withX }: { p: PanelDef; parent: 1 | 2; height: number; withX: boolean }) {
  const floor = parent === 2 ? p.floor2 : p.floor1;
  const lines = parent === 2 ? p.p2 : p.p1;
  const dots = parent === 2 ? p.d2 : p.d1;
  const names = parent === 2 ? ['h5', 'h6', 'h7', 'h8'] : ['h1', 'h2', 'h3', 'h4'];
  const gTicks: number[] = [];
  for (let g = floor; g <= 1.0001; g += 0.2) gTicks.push(Math.round(g * 10) / 10);
  const topUnit = 5 + (1 - floor) / 0.2;
  const yTicks = [1, 2, 3, 4, ...gTicks.map((g) => toUnit(g, floor))];
  const yLabel = (v: number) => (v < 4.5 ? names[Math.round(v) - 1] : String(Math.round((floor + (v - 5) * 0.2) * 10) / 10));
  const low = parent === 2 ? 0 : 0.4;
  const rows = p.xs.map((x, i) => {
    const r: any = { x };
    lines.forEach((ln, k) => { r['l' + k] = toUnit(ln[i], floor); });
    return r;
  });
  const pad = p.max * 0.04;
  const xHeight = withX ? 30 : 0;
  const tick = (props: any) => {
    const { x, y, payload } = props;
    const v = payload.value;
    if (v % p.labelStep !== 0) return <g />;
    return (
      <text x={x} y={y + 16} textAnchor="middle" fontSize={11} fill="#222" fontFamily={FONT}>{v}</text>
    );
  };
  return (
    <ComposedChart width={AXIS_W + BOX_W + RIGHT_PAD} height={height + xHeight} data={rows} margin={{ top: 0, right: RIGHT_PAD, bottom: 0, left: 0 }}>
      <XAxis
        type="number" dataKey="x" domain={[-pad, p.max + pad]} allowDataOverflow
        ticks={p.ticks} hide={!withX} height={xHeight} axisLine={false}
        tickLine={{ stroke: '#222' }} tickSize={5} tick={tick} interval={0}
      />
      <YAxis
        type="number" domain={[low, topUnit + 0.9]} allowDataOverflow ticks={yTicks} width={AXIS_W}
        axisLine={false} tickLine={{ stroke: '#222' }} tickSize={4} tickFormatter={yLabel} interval={0}
        tick={{ fontSize: 11, fill: '#222', fontFamily: FONT }}
      />
      <ReferenceLine y={5} stroke="#aaaaaa" strokeWidth={1} />
      <ReferenceLine
        y={4.45} stroke="none"
        label={{ value: parent === 2 ? 'Parent 2' : 'Parent 1', position: 'insideLeft', offset: 14, fontSize: 10.5, fontStyle: 'italic', fill: '#222', fontFamily: FONT }}
      />
      {dots.map((d, k) => (
        <Scatter
          key={'d' + k} data={d.map((x) => ({ x, y: k + 1 }))} dataKey="y" fill={COL[names[k]]}
          shape={DotShape} isAnimationActive={false}
        />
      ))}
      {lines.map((_, k) => (
        <Line
          key={'l' + k} dataKey={'l' + k} type="linear" stroke={COL[names[k]]} strokeWidth={2}
          dot={false} isAnimationActive={false}
        />
      ))}
    </ComposedChart>
  );
}

function Panel({ p }: { p: PanelDef }) {
  const ut = 5 + (1 - p.floor2) / 0.2 + 0.9;
  const ub = 5 + (1 - p.floor1) / 0.2 + 0.9 - 0.4;
  const hTop = Math.round((BOX_H * ut) / (ut + ub));
  const hBot = BOX_H - hTop;
  const gic = (y: number, h: number) => (
    <div style={{ position: 'absolute', left: p.left - 62, top: y + h / 2 - 12, width: 40, height: 24, fontSize: 20, fontFamily: FONT, textAlign: 'center', lineHeight: '24px', transform: 'rotate(-90deg)', color: '#222' }}>GIC</div>
  );
  return (
    <>
      <div style={{ position: 'absolute', left: p.left, top: p.top - 25, width: BOX_W, textAlign: 'center', fontWeight: 'bold', fontSize: 12.5, fontFamily: FONT, color: '#111' }}>{p.title}</div>
      <div style={{ position: 'absolute', left: p.left - AXIS_W, top: p.top }}>
        <SubChart p={p} parent={2} height={hTop} withX={false} />
      </div>
      <div style={{ position: 'absolute', left: p.left - AXIS_W, top: p.top + hTop }}>
        <SubChart p={p} parent={1} height={hBot} withX={true} />
      </div>
      {gic(p.top, hTop)}
      {gic(p.top + hTop, hBot)}
      <div style={{ position: 'absolute', left: p.left, top: p.top, width: BOX_W, height: BOX_H, border: '1px solid #333', boxSizing: 'border-box', pointerEvents: 'none' }} />
      <div style={{ position: 'absolute', left: p.left, top: p.top + hTop - 1, width: BOX_W, height: 0, borderTop: '2px solid #444', pointerEvents: 'none' }} />
      <div style={{ position: 'absolute', left: p.left, top: p.top + BOX_H + 35, width: BOX_W, textAlign: 'center', fontSize: 11, fontFamily: FONT, color: '#222' }}>cM</div>
    </>
  );
}

export default function App() {
  return (
    <div style={{ position: 'absolute', left: 0, top: 0, width: 800, height: 799, background: '#fff' }}>
      {PANELS.map((p) => <Panel key={p.title} p={p} />)}
    </div>
  );
}
